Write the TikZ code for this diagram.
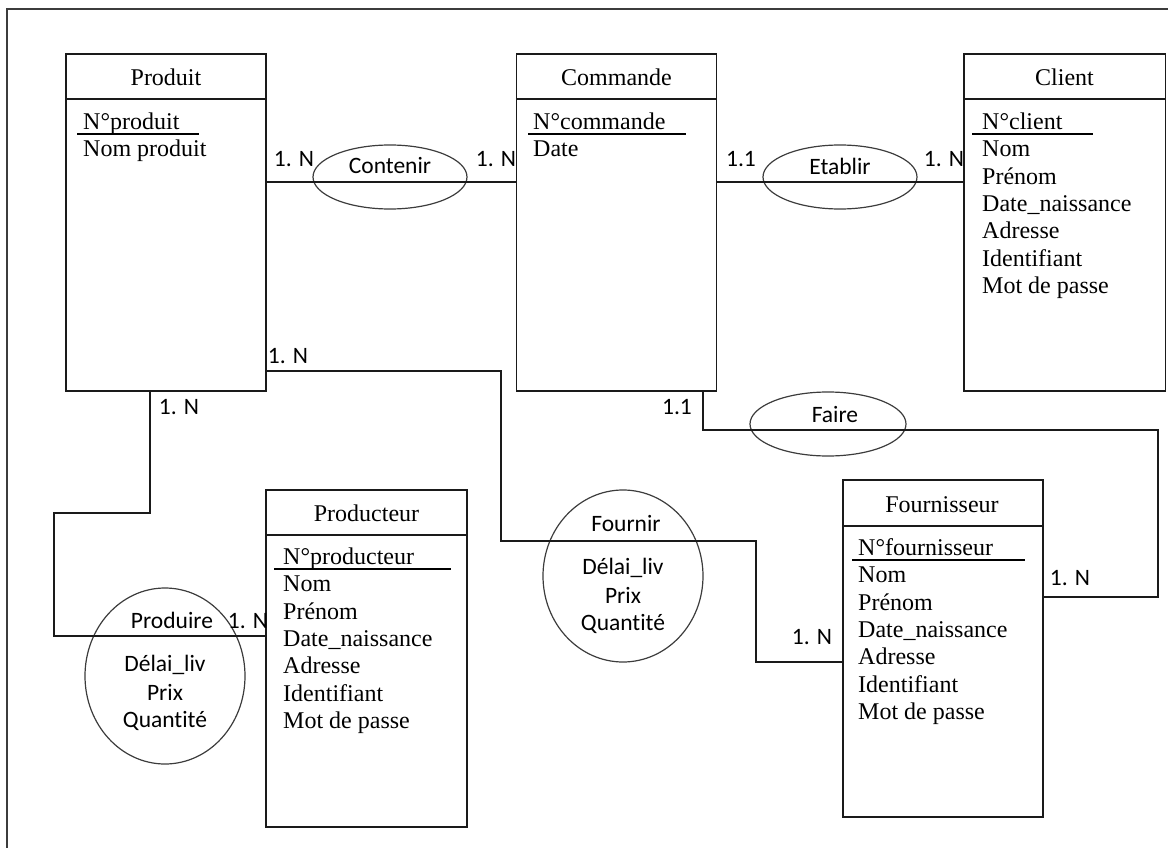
\documentclass[tikz,border=0pt]{standalone}
\usepackage{fontspec}
\setmainfont{Liberation Serif}
\newfontfamily\calibri[Ligatures=NoCommon]{Carlito}
\usetikzlibrary{shapes.geometric}
\definecolor{ink}{HTML}{1A1A1A}
\definecolor{rimgray}{HTML}{3C3C3C}

\tikzset{
  entity/.style={draw=ink, line width=1.5pt, inner sep=0pt, minimum width=200pt, minimum height=337pt},
  headrule/.style={draw=ink, line width=1.5pt},
  keyrule/.style={draw=black, line width=1.9pt},
  entitytitle/.style={font=\fontsize{24}{27}\selectfont, inner sep=0pt, text height=16pt, text depth=0pt},
  attrtext/.style={font=\fontsize{24}{27}\selectfont, anchor=base west, inner sep=0pt},
  relshape/.style={draw=rimgray, line width=1.2pt, ellipse, inner sep=0pt},
  reltext/.style={font=\calibri\fontsize{23.5}{28}\selectfont, inner sep=0pt, text height=15pt, text depth=0pt},
  link/.style={draw=ink, line width=1.5pt},
  frameline/.style={draw=rimgray, line width=1.5pt},
}

\begin{document}
\begin{tikzpicture}[x=1pt, y=-1pt]
\useasboundingbox (0,0) rectangle (1168,848);

% page frame (only top and left edges fall inside the picture)
\draw[frameline] (7,848) -- (7,9) -- (1168,9);

% ---------- entities ----------
\node[entity] (produit) at (166,222.5) {};
\draw[headrule] (produit.west |- 0,99) -- (produit.east |- 0,99);
\node[entitytitle] (produit-t) at (166,78) {Produit};
\draw[keyrule] (77,134) -- (199,134);
\foreach \t [count=\i from 0] in {N°produit, Nom produit}
  \node[attrtext] (produit-a\i) at (83,{129.5+27.3*\i}) {\t};

\node[entity] (commande) at (616.5,222.5) {};
\draw[headrule] (commande.west |- 0,99) -- (commande.east |- 0,99);
\node[entitytitle] (commande-t) at (616.5,78) {Commande};
\draw[keyrule] (528,134) -- (686,134);
\foreach \t [count=\i from 0] in {N°commande, Date}
  \node[attrtext] (commande-a\i) at (533,{129.5+27.3*\i}) {\t};

\node[entity, minimum width=201.5pt] (client) at (1064.75,222.5) {};
\draw[headrule] (client.west |- 0,99) -- (client.east |- 0,99);
\node[entitytitle] (client-t) at (1064.5,78) {Client};
\draw[keyrule] (972,134) -- (1093,134);
\foreach \t [count=\i from 0] in {N°client, Nom, Prénom, Date\_naissance, Adresse, Identifiant, Mot de passe}
  \node[attrtext] (client-a\i) at (982,{129.5+27.3*\i}) {\t};

\node[entity, minimum width=201pt] (producteur) at (366.5,658.5) {};
\draw[headrule] (producteur.west |- 0,535) -- (producteur.east |- 0,535);
\node[entitytitle] (producteur-t) at (366.5,513) {Producteur};
\draw[keyrule] (274,569) -- (451,569);
\foreach \t [count=\i from 0] in {N°producteur, Nom, Prénom, Date\_naissance, Adresse, Identifiant, Mot de passe}
  \node[attrtext] (producteur-a\i) at (283,{564.5+27.3*\i}) {\t};

\node[entity] (fournisseur) at (943,648.5) {};
\draw[headrule] (fournisseur.west |- 0,526) -- (fournisseur.east |- 0,526);
\node[entitytitle] (fournisseur-t) at (942,504) {Fournisseur};
\draw[keyrule] (852,560) -- (1025,560);
\foreach \t [count=\i from 0] in {N°fournisseur, Nom, Prénom, Date\_naissance, Adresse, Identifiant, Mot de passe}
  \node[attrtext] (fournisseur-a\i) at (858,{555.5+27.3*\i}) {\t};

% ---------- associations ----------
\node[relshape, minimum width=154pt, minimum height=64pt] (contenir) at (390,177) {};
\node[reltext] (contenir-t) at (390,166) {Contenir};

\node[relshape, minimum width=154pt, minimum height=64pt] (etablir) at (840,177) {};
\node[reltext] (etablir-t) at (840,167) {Etablir};

\node[relshape, minimum width=156pt, minimum height=64pt] (faire) at (828,424) {};
\node[reltext] (faire-t) at (835,415) {Faire};

\node[relshape, minimum width=160pt, minimum height=172pt] (fournir) at (623,576) {};
\node[reltext] (fournir-t) at (626,524) {Fournir};
\foreach \t/\y [count=\i] in {Délai\_liv/567, Prix/596, Quantité/623}
  \node[reltext] (fournir-a\i) at (623,\y) {\t};

\node[relshape, minimum width=160pt, minimum height=176pt] (produire) at (165,676) {};
\node[reltext] (produire-t) at (172,621) {Produire};
\foreach \t/\y [count=\i] in {Délai\_liv/664, Prix/693, Quantité/720}
  \node[reltext] (produire-a\i) at (165,\y) {\t};

% ---------- links ----------
\draw[link] (produit.east |- 0,182) -- (commande.west |- 0,182);
\draw[link] (commande.east |- 0,182) -- (client.west |- 0,182);
\draw[link] (produit.east |- 0,371) -- (501,371) -- (501,541) -- (756,541)
            -- (756,662) -- (fournisseur.west |- 0,662);
\draw[link] (produit.south -| 150,0) -- (150,513) -- (54,513) -- (54,636)
            -- (producteur.west |- 0,636);
\draw[link] (commande.south -| 703,0) -- (703,430) -- (1158,430) -- (1158,597)
            -- (fournisseur.east |- 0,597);

% ---------- cardinalities ----------
\node[reltext] (c1) at (294,159) {1. N};
\node[reltext] (c2) at (496,159) {1. N};
\node[reltext] (c3) at (741,159) {1.1};
\node[reltext] (c4) at (944,159) {1. N};
\node[reltext] (c5) at (288,356) {1. N};
\node[reltext] (c6) at (179,407) {1. N};
\node[reltext] (c7) at (677,407) {1.1};
\node[reltext] (c8) at (248,621) {1. N};
\node[reltext] (c9) at (812,637) {1. N};
\node[reltext] (c10) at (1070,578) {1. N};
\end{tikzpicture}
\end{document}
